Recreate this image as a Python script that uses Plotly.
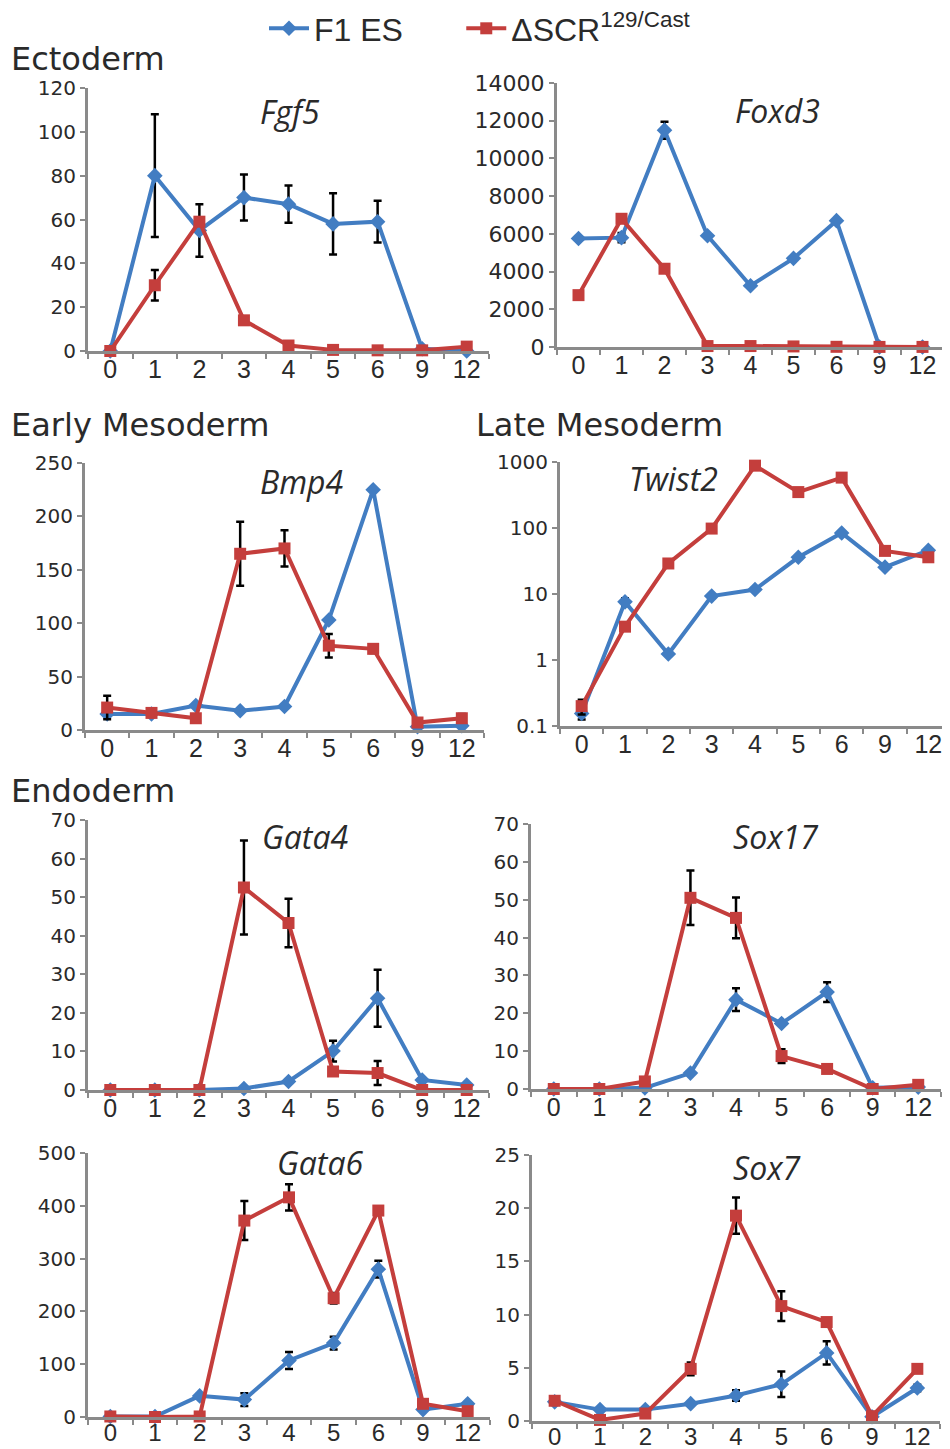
import plotly.graph_objects as go

# the page adds an 8 px body margin, so the figure is 8 px smaller and all
# reference pixel positions are shifted by OFF
OFF = 8
W, H = 950 - OFF, 1449 - OFF

days = ["0", "1", "2", "3", "4", "5", "6", "9", "12"]

# ---- data ----
fgf5_f1 = [0, 80, 55, 70, 67, 58, 59, 1, 0]
fgf5_f1_err = [None, 28, 12, 10.5, 8.5, 14, 9.5, None, None]
fgf5_scr = [0, 30, 59, 14, 2.5, 0.5, 0.3, 0.3, 2]
fgf5_scr_err = [None, 7, None, None, None, None, None, None, None]

foxd3_f1 = [5750, 5800, 11500, 5900, 3250, 4700, 6700, 0, 0]
foxd3_f1_err = [None, 250, 450, None, None, None, None, None, None]
foxd3_scr = [2750, 6800, 4150, 50, 50, 30, 10, 5, 5]
foxd3_scr_err = [None, None, None, None, None, None, None, None, None]

bmp4_f1 = [15, 15, 23, 18, 22, 103, 225, 3, 4]
bmp4_f1_err = [None, None, None, None, None, None, None, None, None]
bmp4_scr = [21, 16, 11, 165, 170, 79, 76, 7, 11]
bmp4_scr_err = [11, None, None, 30, 17, 11, 4, None, 4]

twist2_f1 = [0.155, 7.6, 1.23, 9.3, 11.7, 36, 84, 25.5, 46]
twist2_f1_err = [0.03, 1.0, None, None, None, None, None, None, None]
twist2_scr = [0.2, 3.2, 29, 98, 880, 350, 580, 45, 36]
twist2_scr_err = [0.05, None, None, None, None, None, None, None, 5]

gata4_f1 = [0, 0, 0, 0.4, 2.2, 10.1, 23.8, 2.6, 1.3]
gata4_f1_err = [None, None, None, None, None, 2.7, 7.4, None, None]
gata4_scr = [0, 0, 0, 52.5, 43.3, 4.8, 4.4, 0, 0]
gata4_scr_err = [None, None, None, 12.2, 6.3, None, 3.1, None, None]

sox17_f1 = [0, 0, 0.3, 4.2, 23.6, 17.3, 25.6, 0.3, 0.5]
sox17_f1_err = [None, None, None, None, 3.0, None, 2.6, None, None]
sox17_scr = [0, 0, 2, 50.5, 45.2, 8.7, 5.3, 0, 1.1]
sox17_scr_err = [None, None, None, 7.2, 5.4, 1.8, None, None, None]

gata6_f1 = [1, 1, 40, 33, 107, 140, 280, 14, 25]
gata6_f1_err = [None, None, None, 12, 16, 12, 16, None, None]
gata6_scr = [1, 0, 1, 372, 416, 225, 391, 25, 11]
gata6_scr_err = [None, None, None, 37, 25, 10, None, None, None]

sox7_f1 = [1.8, 1.07, 1.07, 1.63, 2.4, 3.45, 6.4, 0.4, 3.1]
sox7_f1_err = [None, None, None, None, 0.5, 1.2, 1.1, None, 0.3]
sox7_scr = [1.9, 0.1, 0.7, 4.9, 19.3, 10.8, 9.3, 0.45, 4.9]
sox7_scr_err = [None, None, None, 0.6, 1.7, 1.4, None, None, None]

series_names = ["F1 ES" + "\u00a0" * 6, "\u0394SCR<sup>129/Cast</sup>"]
section_labels = ["Ectoderm", "Early Mesoderm", "Late Mesoderm", "Endoderm"]

# ---- layout of panels (pixel boxes in the reference picture) ----
panels = [
    dict(gene="Fgf5", f1=fgf5_f1, f1e=fgf5_f1_err, scr=fgf5_scr, scre=fgf5_scr_err,
         box=(88, 489, 88, 351), yr=[0, 120], dt=20, title=(290, 111), yfs=20),
    dict(gene="Foxd3", f1=foxd3_f1, f1e=foxd3_f1_err, scr=foxd3_scr, scre=foxd3_scr_err,
         box=(557, 944, 83, 347), yr=[0, 14000], dt=2000, title=(777, 110), yfs=22),
    dict(gene="Bmp4", f1=bmp4_f1, f1e=bmp4_f1_err, scr=bmp4_scr, scre=bmp4_scr_err,
         box=(85, 484, 463, 730), yr=[0, 250], dt=50, title=(302, 481), yfs=20),
    dict(gene="Twist2", f1=twist2_f1, f1e=twist2_f1_err, scr=twist2_scr, scre=twist2_scr_err,
         box=(560, 950, 462, 726), yr=[-1, 3], dt=None, title=(673, 479), log=True, yfs=20),
    dict(gene="Gata4", f1=gata4_f1, f1e=gata4_f1_err, scr=gata4_scr, scre=gata4_scr_err,
         box=(88, 489, 820, 1090), yr=[0, 70], dt=10, title=(305, 836), yfs=20),
    dict(gene="Sox17", f1=sox17_f1, f1e=sox17_f1_err, scr=sox17_scr, scre=sox17_scr_err,
         box=(531, 941, 824, 1089), yr=[0, 70], dt=10, title=(775, 836), yfs=20),
    dict(gene="Gata6", f1=gata6_f1, f1e=gata6_f1_err, scr=gata6_scr, scre=gata6_scr_err,
         box=(88, 490, 1153, 1417), yr=[0, 500], dt=100, title=(320, 1162), yfs=20,
         bottom=True),
    dict(gene="Sox7", f1=sox7_f1, f1e=sox7_f1_err, scr=sox7_scr, scre=sox7_scr_err,
         box=(532, 940, 1155, 1421), yr=[0, 25], dt=5, title=(767, 1167), yfs=20,
         bottom=True),
]

BLUE = "#427DC2"
RED = "#C43E3C"
AXC = "#8a8a8a"
TXT = "#2a2a2a"


def fx(px):
    return min(max((px - OFF) / W, 0), 1)


def fy(py):
    return 1 - (py - OFF) / H


fig = go.Figure()
layout = dict(
    width=W, height=H, margin=dict(l=0, r=0, t=0, b=0, autoexpand=False),
    paper_bgcolor="white", plot_bgcolor="white",
    showlegend=True,
    legend=dict(orientation="h", x=256 / W, xanchor="left", y=1 + 7 / H, yanchor="top",
                font=dict(family="Liberation Sans", size=32, color=TXT),
                itemwidth=40, tracegroupgap=0, bgcolor="rgba(0,0,0,0)"),
)
annotations = []

for i, p in enumerate(panels):
    k = i + 1
    xa = "x" if k == 1 else f"x{k}"
    ya = "y" if k == 1 else f"y{k}"
    x0, x1, yt, yb = p["box"]
    log = p.get("log", False)
    bottom = p.get("bottom", False)
    for vals, errs, color, sym, size, name in [
        (p["f1"], p["f1e"], BLUE, "diamond", 12, series_names[0]),
        (p["scr"], p["scre"], RED, "square", 12, series_names[1]),
    ]:
        fig.add_trace(go.Scatter(
            x=days, y=vals, xaxis=xa, yaxis=ya, mode="lines+markers",
            name=name, legendgroup=name, showlegend=(k == 1),
            line=dict(color=color, width=4),
            marker=dict(color=color, symbol=sym, size=size),
            error_y=dict(type="data", array=errs, visible=True, color="black",
                         thickness=2.5, width=4),
            cliponaxis=False,
        ))
    xkey = "xaxis" if k == 1 else f"xaxis{k}"
    ykey = "yaxis" if k == 1 else f"yaxis{k}"
    layout[xkey] = dict(
        domain=[fx(x0), fx(x1)], anchor=ya, type="category",
        categoryorder="array", categoryarray=days, range=[-0.5, 8.5],
        showline=True, linecolor=AXC, linewidth=3, showgrid=False, zeroline=False,
        ticks="outside", tickson="boundaries", ticklen=5, tickwidth=2, tickcolor=AXC,
        ticklabelstandoff=(-8 if bottom else -6), automargin=False,
        tickfont=dict(family="Liberation Sans", size=(24 if bottom else 25), color=TXT),
        fixedrange=True,
    )
    ydict = dict(
        domain=[fy(yb), fy(yt)], anchor=xa, automargin=False,
        showline=True, linecolor=AXC, linewidth=3, showgrid=False, zeroline=False,
        ticks="outside", ticklen=5, tickwidth=2, tickcolor=AXC,
        tickfont=dict(family="DejaVu Sans", size=p["yfs"], color=TXT), fixedrange=True,
        range=p["yr"],
    )
    if log:
        ydict.update(type="log", tickmode="array",
                     tickvals=[0.1, 1, 10, 100, 1000],
                     ticktext=["0.1", "1", "10", "100", "1000"])
    else:
        ydict.update(tickmode="linear", tick0=0, dtick=p["dt"], tickformat="d")
    layout[ykey] = ydict
    tx, ty = p["title"]
    annotations.append(dict(
        x=fx(tx), y=fy(ty), xref="paper", yref="paper", showarrow=False,
        text=f"<i>{p['gene']}</i>", xanchor="center", yanchor="middle",
        font=dict(family="Open Sans", size=32, color=TXT),
    ))

for text, (lx, ly) in zip(section_labels, [(9, 59), (9, 425), (474, 425), (9, 791)]):
    annotations.append(dict(
        x=fx(lx), y=fy(ly), xref="paper", yref="paper", showarrow=False,
        text=text, xanchor="left", yanchor="middle",
        font=dict(family="DejaVu Sans", size=32, color=TXT),
    ))

layout["annotations"] = annotations
fig.update_layout(**layout)
fig.write_html("out.html")
